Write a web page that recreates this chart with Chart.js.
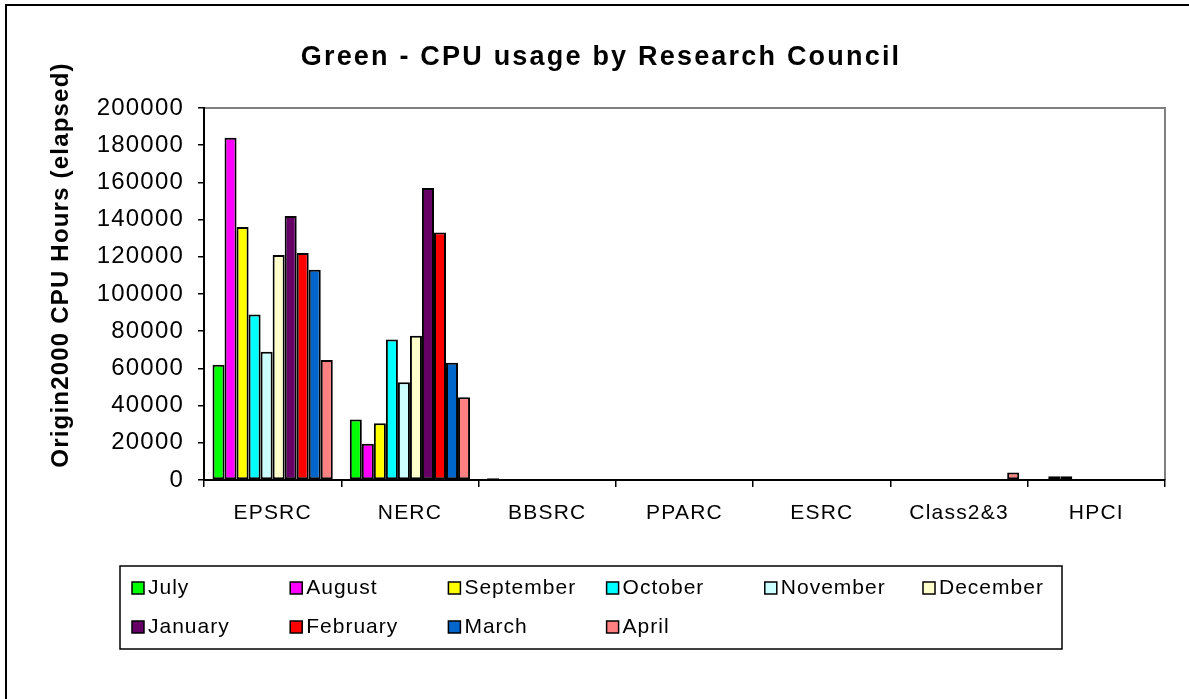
<!DOCTYPE html>
<html>
<head>
<meta charset="utf-8">
<title>Green - CPU usage by Research Council</title>
<script src="https://cdn.jsdelivr.net/npm/chart.js@4"></script>
<style>
  body { margin: 0; background: #fff; }
  canvas { display: block; }
</style>
</head>
<body>
<canvas id="cpuChart" width="1189" height="699"></canvas>
<script>
// research councils on the x axis
const councils = ["EPSRC", "NERC", "BBSRC", "PPARC", "ESRC", "Class2&3", "HPCI"];

// CPU hours per month, one value per council
const july      = [62000, 32500, 1000, 0, 0, 0, 0];
const august    = [184000, 19500, 0, 0, 0, 0, 2000];
const september = [136000, 30500, 0, 0, 0, 0, 2000];
const october   = [89000, 75500, 0, 0, 0, 0, 0];
const november  = [69000, 52500, 0, 0, 0, 0, 0];
const december  = [121000, 77500, 0, 0, 0, 0, 0];
const january   = [142000, 157000, 0, 0, 0, 0, 0];
const february  = [122000, 133000, 0, 0, 0, 0, 0];
const march     = [113000, 63000, 0, 0, 0, 0, 0];
const april     = [64500, 44500, 0, 0, 0, 4000, 0];

const months = ["July", "August", "September", "October", "November", "December",
                "January", "February", "March", "April"];
const monthValues = [july, august, september, october, november, december,
                     january, february, march, april];
const monthColors = ["#00FF00", "#FF00FF", "#FFFF00", "#00FFFF", "#CCFFFF", "#FFFFCC",
                     "#660066", "#FF0000", "#0066CC", "#FF8080"];

const yTicks = [0, 20000, 40000, 60000, 80000, 100000, 120000, 140000, 160000, 180000, 200000];

const FONT = "'Liberation Sans', Arial, sans-serif";

// text in the picture is a bit spread out, canvas letterSpacing does that
const spacingPlugin = {
  id: "spacing",
  beforeUpdate(chart) { chart.ctx.letterSpacing = "1.2px"; },
  beforeDraw(chart) { chart.ctx.letterSpacing = "1.2px"; }
};

// frame, plot border, titles and the boxed legend
const decorPlugin = {
  id: "decor",
  beforeDraw(chart) {
    const ctx = chart.ctx;
    const a = chart.chartArea;
    ctx.save();
    ctx.fillStyle = "#fff";
    ctx.fillRect(0, 0, chart.width, chart.height);
    // outer frame (only top and left edges show)
    ctx.strokeStyle = "#000";
    ctx.lineWidth = 2;
    ctx.beginPath();
    ctx.moveTo(6, chart.height);
    ctx.lineTo(6, 5);
    ctx.lineTo(chart.width, 5);
    ctx.stroke();
    // plot area border in grey
    ctx.strokeStyle = "#808080";
    ctx.lineWidth = 2;
    ctx.beginPath();
    ctx.moveTo(a.left, a.top);
    ctx.lineTo(a.right, a.top);
    ctx.lineTo(a.right, a.bottom);
    ctx.stroke();
    ctx.restore();
  },
  afterDraw(chart) {
    const ctx = chart.ctx;
    ctx.save();
    ctx.fillStyle = "#000";

    // chart title
    ctx.letterSpacing = "2.2px";
    ctx.font = "bold 27px " + FONT;
    ctx.textAlign = "center";
    ctx.textBaseline = "middle";
    ctx.fillText("Green - CPU usage by Research Council", 601, 58);

    // y axis title
    ctx.letterSpacing = "1.2px";
    ctx.font = "bold 24px " + FONT;
    ctx.translate(61, 265);
    ctx.rotate(-Math.PI / 2);
    ctx.fillText("Origin2000 CPU Hours (elapsed)", 0, 0);
    ctx.setTransform(1, 0, 0, 1, 0, 0);

    // legend box
    const lx = 120, ly = 566, lw = 942, lh = 83;
    ctx.strokeStyle = "#000";
    ctx.lineWidth = 1.5;
    ctx.strokeRect(lx, ly, lw, lh);

    ctx.letterSpacing = "1px";
    ctx.font = "21px " + FONT;
    ctx.textAlign = "left";
    ctx.textBaseline = "middle";
    chart.data.datasets.forEach((ds, i) => {
      const col = i % 6;
      const row = Math.floor(i / 6);
      const bx = 132 + col * 158.2;
      const by = 588 + row * 39;
      ctx.fillStyle = ds.backgroundColor;
      ctx.fillRect(bx, by - 6, 12, 12);
      ctx.strokeStyle = "#000";
      ctx.lineWidth = 1.5;
      ctx.strokeRect(bx, by - 6, 12, 12);
      ctx.fillStyle = "#000";
      ctx.fillText(ds.label, bx + 16, by);
    });
    ctx.restore();
  }
};

const datasets = months.map((m, i) => ({
  label: m,
  data: monthValues[i],
  backgroundColor: monthColors[i],
  borderColor: "#000",
  borderWidth: 2,
  borderSkipped: false,
  categoryPercentage: 0.876,
  barPercentage: 1.0
}));

new Chart(document.getElementById("cpuChart").getContext("2d"), {
  type: "bar",
  data: { labels: councils, datasets: datasets },
  options: {
    responsive: false,
    devicePixelRatio: 1,
    animation: false,
    layout: { padding: { top: 108, right: 24, bottom: 169, left: 0 } },
    plugins: {
      legend: { display: false },
      title: { display: false },
      tooltip: { enabled: false }
    },
    scales: {
      x: {
        afterFit: (s) => { s.height = 50; },
        grid: {
          offset: true,
          drawOnChartArea: false,
          tickLength: 7,
          color: "#000",
          lineWidth: 1.5
        },
        border: { color: "#000", width: 2 },
        ticks: {
          color: "#000",
          padding: 14,
          font: { family: FONT, size: 21 }
        }
      },
      y: {
        min: 0,
        max: 200000,
        afterFit: (s) => { s.width = 204; },
        afterBuildTicks: (s) => { s.ticks = yTicks.map((v) => ({ value: v })); },
        grid: {
          drawOnChartArea: false,
          tickLength: 6,
          color: "#000",
          lineWidth: 1.5
        },
        border: { color: "#000", width: 2 },
        ticks: {
          color: "#000",
          padding: 14,
          font: { family: FONT, size: 24 },
          callback: (v) => String(v)
        }
      }
    }
  },
  plugins: [spacingPlugin, decorPlugin]
});
</script>
</body>
</html>
